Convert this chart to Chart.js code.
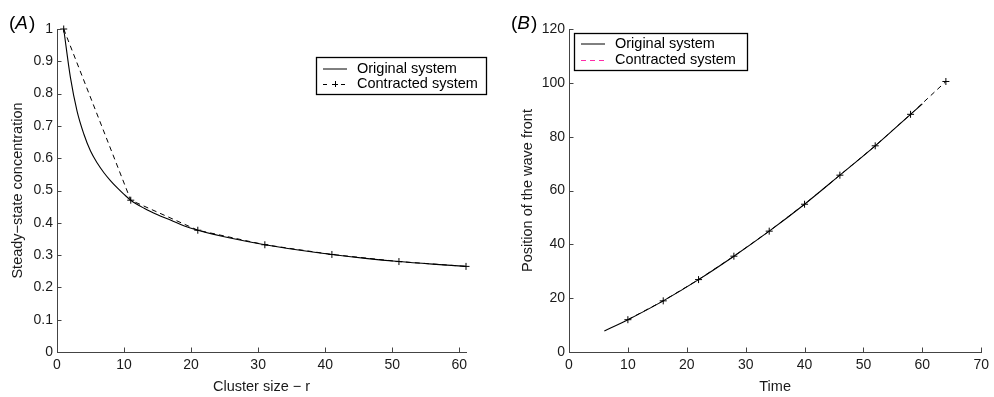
<!DOCTYPE html>
<html>
<head>
<meta charset="utf-8">
<script src="https://cdn.jsdelivr.net/npm/chart.js@4.4.0/dist/chart.umd.min.js"></script>
<style>
    html, body { margin: 0; padding: 0; background: #fff; }
    .panel { position: absolute; top: 0; width: 497px; height: 397px; }
    #panel-a { left: 0; }
    #panel-b { left: 497px; }
</style>
</head>
<body>
<div class="panel" id="panel-a"><canvas id="chart-a"></canvas></div>
<div class="panel" id="panel-b"><canvas id="chart-b"></canvas></div>
<script>
// (A) steady-state concentration against cluster size
const clusterSize = [1, 2, 3, 4, 5, 6, 7, 8, 9, 10, 11, 13, 15, 17, 19, 21, 26, 31, 36, 41, 46, 51, 56, 61];
const originalConc = [1.0, 0.85, 0.745, 0.675, 0.622, 0.585, 0.555, 0.53, 0.508, 0.488, 0.47, 0.445, 0.425, 0.408, 0.39, 0.377, 0.352, 0.332, 0.316, 0.302, 0.29, 0.28, 0.272, 0.265];
const contractedSize = [1, 11, 21, 31, 41, 51, 61];
const contractedConc = [1.0, 0.47, 0.377, 0.332, 0.302, 0.28, 0.265];
const xTicksA = [0, 10, 20, 30, 40, 50, 60];
const yTicksA = [0, 0.1, 0.2, 0.3, 0.4, 0.5, 0.6, 0.7, 0.8, 0.9, 1];

// (B) position of the wave front against time
const timeOriginal = [6, 10, 16, 22, 28, 34, 40, 46, 52, 58, 60];
const frontOriginal = [7.8, 12.0, 19.0, 26.9, 35.6, 44.9, 54.9, 65.7, 76.6, 88.3, 92.2];
const timeContracted = [10, 16, 22, 28, 34, 40, 46, 52, 58, 64];
const frontContracted = [12.0, 19.0, 26.9, 35.6, 44.9, 54.9, 65.7, 76.6, 88.3, 100.5];
const xTicksB = [0, 10, 20, 30, 40, 50, 60, 70];
const yTicksB = [0, 20, 40, 60, 80, 100, 120];

const FONT = '"Liberation Sans", Arial, Helvetica, sans-serif';
const AXIS_COLOR = '#444';
const TEXT_COLOR = '#1a1a1a';

Chart.defaults.font.family = FONT;
Chart.defaults.font.size = 14;
Chart.defaults.color = TEXT_COLOR;

function toPoints(xs, ys) {
    return xs.map((x, i) => ({ x, y: ys[i] }));
}

// inward tick marks, panel letter and a MATLAB style legend box
const matlabLook = {
    id: 'matlabLook',
    afterDraw(chart, args, opts) {
        const { ctx, chartArea, scales } = chart;
        ctx.save();

        ctx.strokeStyle = AXIS_COLOR;
        ctx.lineWidth = 1;
        ctx.beginPath();
        scales.x.ticks.forEach(t => {
            const px = Math.round(scales.x.getPixelForValue(t.value)) + 0.5;
            ctx.moveTo(px, chartArea.bottom);
            ctx.lineTo(px, chartArea.bottom - opts.tickLen);
        });
        scales.y.ticks.forEach(t => {
            const py = Math.round(scales.y.getPixelForValue(t.value)) + 0.5;
            ctx.moveTo(chartArea.left, py);
            ctx.lineTo(chartArea.left + opts.tickLen, py);
        });
        ctx.stroke();

        // panel letter: upright brackets, italic letter
        const lbl = opts.label;
        ctx.fillStyle = '#000';
        ctx.textBaseline = 'alphabetic';
        ctx.textAlign = 'left';
        let x = lbl.x;
        ctx.font = `19px ${FONT}`;
        ctx.fillText('(', x, lbl.y);
        x += ctx.measureText('(').width;
        ctx.font = `italic 19px ${FONT}`;
        ctx.fillText(lbl.letter, x, lbl.y);
        x += ctx.measureText(lbl.letter).width + 1;
        ctx.font = `19px ${FONT}`;
        ctx.fillText(')', x, lbl.y);

        // legend
        const lg = opts.legend;
        ctx.fillStyle = '#fff';
        ctx.fillRect(lg.x, lg.y, lg.w, lg.h);
        ctx.strokeStyle = '#000';
        ctx.lineWidth = 1.3;
        ctx.strokeRect(lg.x + 0.5, lg.y + 0.5, lg.w, lg.h);
        ctx.font = `14.5px ${FONT}`;
        ctx.textBaseline = 'middle';
        lg.items.forEach((item, i) => {
            const y = lg.y + lg.rows[i];
            const x0 = lg.x + 7;
            const x1 = x0 + 24;
            ctx.strokeStyle = item.color;
            ctx.lineWidth = 1;
            ctx.setLineDash(item.dash);
            ctx.beginPath();
            ctx.moveTo(x0, y + 0.5);
            ctx.lineTo(x1, y + 0.5);
            ctx.stroke();
            ctx.setLineDash([]);
            if (item.marker) {
                const cx = (x0 + x1) / 2;
                ctx.beginPath();
                ctx.moveTo(cx - 3, y + 0.5);
                ctx.lineTo(cx + 3, y + 0.5);
                ctx.moveTo(cx + 0.5, y - 3);
                ctx.lineTo(cx + 0.5, y + 3);
                ctx.stroke();
            }
            ctx.fillStyle = '#000';
            ctx.fillText(item.text, lg.x + 41, y);
        });

        ctx.restore();
    }
};

function axisOptions(ticksList, min, max, title, fixedSize, titlePadding, isX) {
    return {
        type: 'linear',
        min,
        max,
        afterBuildTicks: scale => {
            scale.ticks = ticksList.map(v => ({ value: v }));
        },
        afterFit: scale => {
            if (isX) scale.height = fixedSize; else scale.width = fixedSize;
        },
        grid: { display: false, drawTicks: false },
        border: { display: true, color: AXIS_COLOR, width: 1 },
        ticks: {
            padding: isX ? 5 : 4,
            color: TEXT_COLOR,
            font: { size: 14 },
            callback: v => String(v)
        },
        title: {
            display: true,
            text: title,
            color: TEXT_COLOR,
            font: { size: 14.5 },
            padding: titlePadding
        }
    };
}

new Chart(document.getElementById('chart-a'), {
    type: 'line',
    data: {
        datasets: [
            {
                label: 'Original system',
                data: toPoints(clusterSize, originalConc),
                borderColor: '#000',
                borderWidth: 1.1,
                pointRadius: 0,
                cubicInterpolationMode: 'monotone'
            },
            {
                label: 'Contracted system',
                data: toPoints(contractedSize, contractedConc),
                borderColor: '#000',
                borderWidth: 1,
                borderDash: [5, 4],
                pointStyle: 'cross',
                pointRadius: 3.5,
                pointBorderWidth: 1,
                pointBorderColor: '#000',
                clip: false
            }
        ]
    },
    options: {
        responsive: true,
        maintainAspectRatio: false,
        animation: false,
        layout: { padding: { top: 29, right: 31, left: 0, bottom: 0 } },
        plugins: {
            legend: { display: false },
            tooltip: { enabled: false },
            matlabLook: {
                tickLen: 4.5,
                label: { letter: 'A', x: 9, y: 29 },
                legend: {
                    x: 316, y: 57, w: 170, h: 37,
                    rows: [11.5, 27],
                    items: [
                        { text: 'Original system', color: '#000', dash: [] },
                        { text: 'Contracted system', color: '#000', dash: [4, 5], marker: true }
                    ]
                }
            }
        },
        scales: {
            x: axisOptions(xTicksA, 0, 61, 'Cluster size \u2212 r', 45, { top: 0, bottom: 1.6 }, true),
            y: axisOptions(yTicksA, 0, 1, 'Steady\u2212state concentration', 57, { top: 8.8, bottom: 0 }, false)
        }
    },
    plugins: [matlabLook]
});

new Chart(document.getElementById('chart-b'), {
    type: 'line',
    data: {
        datasets: [
            {
                label: 'Original system',
                data: toPoints(timeOriginal, frontOriginal),
                borderColor: '#000',
                borderWidth: 1.1,
                pointRadius: 0,
                cubicInterpolationMode: 'monotone'
            },
            {
                label: 'Contracted system',
                data: toPoints(timeContracted, frontContracted),
                borderColor: '#000',
                borderWidth: 1,
                borderDash: [5, 4],
                pointStyle: 'cross',
                pointRadius: 3.5,
                pointBorderWidth: 1,
                pointBorderColor: '#000',
                clip: false
            }
        ]
    },
    options: {
        responsive: true,
        maintainAspectRatio: false,
        animation: false,
        layout: { padding: { top: 29, right: 8.5, left: 0, bottom: 0 } },
        plugins: {
            legend: { display: false },
            tooltip: { enabled: false },
            matlabLook: {
                tickLen: 4.5,
                label: { letter: 'B', x: 14, y: 28.5 },
                legend: {
                    x: 77, y: 33, w: 173, h: 37,
                    rows: [10.5, 27],
                    items: [
                        { text: 'Original system', color: '#000', dash: [] },
                        { text: 'Contracted system', color: '#ff2aa8', dash: [5, 4] }
                    ]
                }
            }
        },
        scales: {
            x: axisOptions(xTicksB, 0, 70, 'Time', 45, { top: 0, bottom: 1.6 }, true),
            y: axisOptions(yTicksB, 0, 120, 'Position of the wave front', 72, { top: 22.6, bottom: 0 }, false)
        }
    },
    plugins: [matlabLook]
});
</script>
</body>
</html>
